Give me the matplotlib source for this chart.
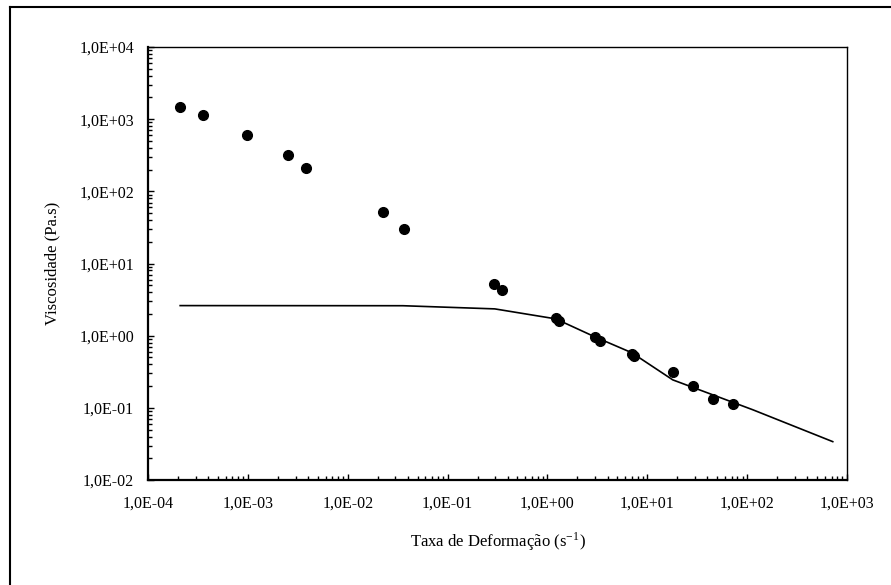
import matplotlib
matplotlib.use("Agg")
import matplotlib.pyplot as plt
from matplotlib.ticker import LogLocator, FuncFormatter, NullFormatter
from matplotlib.lines import Line2D

plt.rcParams['font.family'] = ['Liberation Serif', 'DejaVu Serif']
plt.rcParams['mathtext.fontset'] = 'stix'

# experimental points
taxa_exp = [2.1e-4, 3.55e-4, 9.8e-4, 2.5e-3, 3.8e-3, 0.0225, 0.0366, 0.29, 0.35,
            1.21, 1.30, 3.0, 3.35, 7.0, 7.3, 18, 28.5, 45, 72]
visc_exp = [1480, 1140, 600, 316, 211, 51.9, 30.1, 5.2, 4.3,
            1.77, 1.60, 0.96, 0.85, 0.56, 0.525, 0.315, 0.20, 0.133, 0.113]

# model curve
taxa_mod = [2.1e-4, 0.0357, 0.297, 1.21, 3.0, 7.0, 18, 114, 720]
visc_mod = [2.61, 2.60, 2.35, 1.71, 0.96, 0.58, 0.244, 0.094, 0.034]

fig = plt.figure(figsize=(8.91, 5.85), dpi=100)
ax = fig.add_axes([148 / 891, 1 - 480 / 585, (847 - 148) / 891, (480 - 47) / 585])

ax.plot(taxa_mod, visc_mod, color='black', linewidth=1.2)
ax.plot(taxa_exp, visc_exp, 'o', color='black', markersize=7)

ax.set_xscale('log')
ax.set_yscale('log')
ax.set_xlim(1e-4, 1e3)
ax.set_ylim(1e-2, 1e4)

fmt = FuncFormatter(lambda v, p: f"{v:.1E}".replace('.', ','))
for axis in (ax.xaxis, ax.yaxis):
    axis.set_major_locator(LogLocator(base=10, numticks=20))
    axis.set_minor_locator(LogLocator(base=10, subs=range(2, 10), numticks=20))
    axis.set_major_formatter(fmt)
    axis.set_minor_formatter(NullFormatter())

ax.tick_params(which='major', direction='in', length=4, width=1, labelsize=11.5)
ax.tick_params(which='minor', direction='in', length=3, width=1)
ax.tick_params(axis='x', pad=11)
ax.tick_params(axis='y', pad=10)

for s in ('left', 'bottom'):
    ax.spines[s].set_linewidth(1.6)
for s in ('top', 'right'):
    ax.spines[s].set_linewidth(1.0)

ax.set_xlabel('Taxa de Deformação (s$^{\\mathregular{-1}}$)', fontsize=12, labelpad=14)
ax.set_ylabel('Viscosidade (Pa.s)', fontsize=12, labelpad=14)

# outer frame
fig.add_artist(Line2D([10 / 891, 1], [1 - 7 / 585, 1 - 7 / 585], color='black', linewidth=1.5))
fig.add_artist(Line2D([10 / 891, 10 / 891], [1 - 7 / 585, 0], color='black', linewidth=1.5))

fig.savefig('out.png', dpi=100)
